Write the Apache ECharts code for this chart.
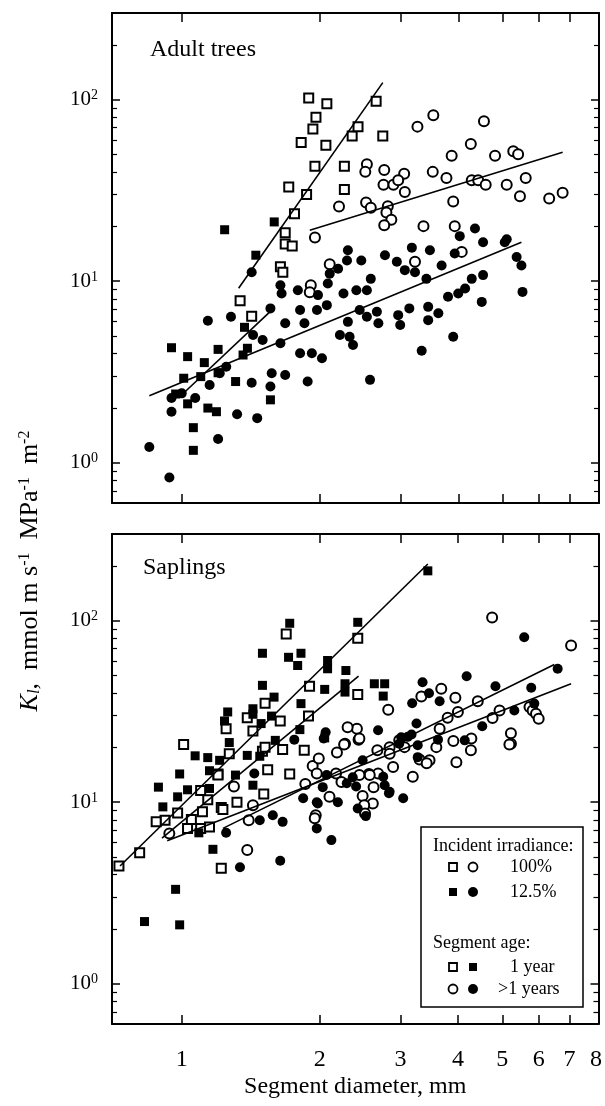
<!DOCTYPE html>
<html>
<head>
<meta charset="utf-8" />
<title>Kl vs segment diameter</title>
<script src="https://cdn.jsdelivr.net/npm/echarts@6/dist/echarts.min.js"></script>
</head>
<body style="margin:0;background:#fff;">
<div id="main" style="width:605px;height:1106px;"></div>
<script type="text/javascript">
// tick values
var xTicks = [1, 2, 3, 4, 5, 6, 7, 8];
var xTickMarks = [1, 2, 3, 4, 5, 6, 7];
var yMajor = [1, 10, 100];
var yMinor = [0.7, 0.8, 0.9, 2, 3, 4, 5, 6, 7, 8, 9, 20, 30, 40, 50, 60, 70, 80, 90, 200];

// Adult trees: [diameter mm, Kl]
var adultOpenSq = [[1.89,102],[2.07,95],[2.65,98],[1.96,80],[1.93,69],[2.35,63],[1.82,58],[2.06,56],[2.74,63],[2.42,71],
  [1.95,43],[2.26,43],[1.71,33],[2.26,32],[1.87,30],[1.76,23.5],[1.68,18.5],[1.68,16],[1.74,15.6],[1.64,12],[1.66,11.2],[1.34,7.8],[1.42,6.4]];
var adultFillSq = [[1.24,19.2],[1.59,21.2],[1.45,13.9],[0.95,4.3],[1.03,3.84],[1.12,3.56],[1.2,4.21],[1.39,4.27],[1.36,3.92],[1.37,5.57],
  [1.01,2.92],[1.1,2.98],[1.31,2.8],[1.03,2.11],[1.14,2.0],[1.19,1.91],[1.56,2.22],[1.06,1.56],[1.06,1.17],[0.97,2.39],[1.2,3.13]];
var adultOpenCi = [[3.53,82],[3.26,71],[4.55,76],[4.26,57],[3.87,49],[4.81,49],[5.27,52],[5.4,50],[2.53,44],[2.51,40],[2.76,41],[3.05,39],
  [3.52,40],[3.77,37],[2.75,34],[2.89,34],[2.96,36],[3.06,31],[4.28,36],[4.42,36],[4.59,34],[5.1,34],[5.61,37],[5.45,29.4],[6.31,28.5],
  [6.75,30.7],[2.2,25.8],[2.52,27.1],[2.58,25.4],[2.81,25.9],[2.79,23.9],[2.86,21.8],[2.76,20.3],[3.9,27.5],[3.36,20.1],[3.93,20.1],
  [1.95,17.4],[4.07,14.5],[2.1,12.4],[1.91,9.5],[1.9,8.7],[3.22,12.8]];
var adultFillCi = [[0.85,1.22],[0.94,0.83],[0.95,1.91],[0.95,2.27],[1.0,2.41],[1.07,2.27],[1.14,6.05],[1.15,2.68],[1.2,1.35],[1.21,3.11],
  [1.28,6.37],[1.25,3.38],[1.32,1.85],[1.42,2.76],[1.46,1.76],[1.42,11.2],[1.43,5.05],[1.5,4.74],[1.57,3.11],[1.56,2.63],[1.56,7.08],
  [1.64,9.5],[1.65,8.56],[1.64,4.55],[1.68,3.04],[1.68,5.86],[1.79,8.92],[1.81,6.93],[1.81,4.01],[1.85,5.86],[1.88,2.8],[1.92,4.01],
  [1.97,6.93],[1.98,8.38],[2.02,3.76],[2.07,7.38],[2.08,9.71],[2.1,11.0],[2.19,11.7],[2.21,5.05],[2.25,8.56],[2.29,13.0],[2.3,14.8],
  [2.3,5.97],[2.32,4.94],[2.36,4.45],[2.4,8.92],[2.44,6.93],[2.46,13.0],[2.53,8.92],[2.53,6.37],[2.57,2.86],[2.58,10.3],[2.68,5.86],
  [2.66,6.78],[2.77,13.9],[2.94,12.8],[2.99,5.73],[2.96,6.5],[3.06,11.5],[3.13,7.08],[3.17,15.3],[3.22,11.2],[3.33,4.14],[3.41,10.3],
  [3.44,7.22],[3.44,6.1],[3.47,14.8],[3.62,6.65],[3.68,12.2],[3.8,8.2],[3.9,4.94],[3.93,14.2],[4.0,8.56],[4.14,9.12],[4.28,10.3],
  [4.5,7.69],[4.53,16.4],[4.53,10.8],[5.05,16.4],[5.36,13.6],[5.49,12.2],[5.52,8.73],[4.03,17.7],[4.35,19.5],[5.1,17.0]];

// Saplings
var sapOpenSq = [[2.42,80],[1.69,84.5],[1.9,43.5],[2.42,39.2],[1.52,35.1],[1.64,28],[1.89,29.8],[1.39,29.2],[1.43,24.7],[1.25,25.4],
  [1.85,19.3],[1.66,19.5],[1.5,19.1],[1.01,20.8],[1.27,18.5],[1.52,20.1],[1.54,15.1],[1.2,14.3],[1.1,11.6],[1.51,11.1],[1.05,8.03],
  [1.32,10.0],[1.22,9.35],[1.14,10.3],[0.92,7.96],[0.88,7.79],[0.98,8.73],[1.03,7.17],[1.1,7.17],[1.15,7.31],[1.11,8.85],[1.2,14.1],
  [1.23,9.12],[1.22,4.32],[1.72,14.3],[0.73,4.45],[0.81,5.26]];
var sapFillSq = [[3.44,188],[1.72,96.7],[2.42,97.9],[1.5,66.1],[1.71,62.8],[1.82,66.1],[1.79,56.6],[2.08,60.3],[2.08,54.3],[2.28,53.1],
  [1.5,44],[2.05,41.8],[2.27,44.9],[2.27,40.4],[2.63,44.9],[2.77,44.9],[2.75,38.4],[1.59,37.9],[1.26,31.4],[1.43,32.7],[1.24,28],
  [1.43,30.5],[1.57,29.8],[1.82,34.9],[1.49,27.1],[1.27,21.3],[1.6,21.9],[1.81,25.1],[1.07,18],[1.14,17.6],[1.39,18.1],[1.48,17.9],
  [2.05,22.6],[1.21,17],[1.15,14.9],[0.99,14.3],[0.89,12.1],[0.98,10.7],[1.03,11.7],[0.91,9.42],[1.09,6.78],[1.17,5.5],[0.97,3.31],
  [0.83,2.2],[0.99,2.11],[1.31,14.1],[1.43,12.4],[1.15,11.9]];
var sapOpenCi = [[4.75,104],[7.06,73],[2.82,32.3],[3.33,38.2],[3.68,42.2],[3.95,37.6],[4.42,36],[4.0,31.4],[3.8,29.2],[3.65,25.4],
  [4.93,32],[4.76,29.1],[5.73,33.4],[5.82,32],[5.92,30.7],[6.0,28.8],[5.22,24],[5.22,21],[3.91,21.7],[4.28,22.4],[4.27,19.3],[3.97,16.6],
  [3.59,20.1],[3.47,17],[3.3,17.2],[2.98,21.9],[2.84,20.1],[2.84,18.5],[2.67,19.3],[2.41,25.4],[2.3,25.9],[2.43,22.1],[2.27,21],
  [2.18,18.8],[1.93,15.8],[1.99,17.4],[1.97,14.4],[1.86,12.6],[2.17,14.4],[2.56,14.3],[2.68,14.4],[2.48,10.8],[2.61,9.84],[2.5,9.63],
  [2.1,10.7],[1.96,8.48],[1.43,9.63],[1.3,12.2],[1.4,7.96],[1.39,5.45],[0.94,6.73],[2.89,15.6],[3.19,13.8],[3.42,16.4],[3.06,20.1],
  [2.57,14.1],[2.44,14.1],[2.23,12.9],[2.62,12.1],[2.51,8.67],[1.95,8.15],[2.26,20.8],[2.44,22.4],[5.18,20.8]];
var sapFillCi = [[5.58,81],[6.6,54.3],[5.78,42.7],[4.18,49.4],[4.83,43.5],[3.35,45.8],[3.46,39.8],[3.65,36],[3.18,35.1],[5.31,32],
  [5.87,34.9],[4.52,26.2],[3.25,27.1],[3.17,23.6],[3.62,22.1],[4.14,21.9],[3.27,20.6],[3.27,17.7],[2.68,24.9],[3.01,22.8],[2.98,21],
  [2.06,24.3],[2.04,22.4],[1.76,22.1],[2.48,17],[1.44,14.4],[1.84,10.5],[1.97,10],[1.97,7.17],[2.12,6.18],[1.48,7.96],[1.58,8.48],
  [1.66,7.79],[1.25,6.78],[1.34,4.38],[1.64,4.76],[2.42,9.23],[2.52,8.38],[2.77,12.4],[2.84,11.4],[3.04,10.5],[2.4,12.2],[2.29,12.7],
  [2.03,12.1],[2.07,14.1],[2.75,13.8],[2.36,13.7],[2.19,10],[2.83,11.2],[3.11,22.9],[1.98,9.84]];

// fitted lines (end points)
var adultFitOpenSq = [[1.33,9.15],[2.74,124]];
var adultFitFillSq = [[1.01,2.42],[1.57,6.93]];
var adultFitOpenCi = [[1.9,19.1],[6.75,51.3]];
var adultFitFillCi = [[0.85,2.34],[5.49,16.4]];
var sapFitA = [[0.734,4.45],[3.44,205]];
var sapFitB = [[0.906,6.34],[2.43,49.4]];
var sapFitFillCi = [[1.23,7.17],[6.49,57.3]];
var sapFitOpenCi = [[0.93,6.13],[7.06,44.9]];

var serif = '"Liberation Serif", "Times New Roman", serif';
var myChart = echarts.init(document.getElementById('main'));

function xAxes(g) {
    var common = {
        gridIndex: g, type: 'log', logBase: 10, min: 0.705, max: 8.1,
        axisLine: {show: true, onZero: false, lineStyle: {color: '#000', width: 2}},
        axisTick: {show: true, inside: true, length: 9, customValues: xTickMarks, lineStyle: {color: '#000', width: 1.5}},
        splitLine: {show: false}
    };
    var bottom = echarts.util.merge({
        position: 'bottom',
        axisLabel: {show: g === 1, customValues: xTicks, margin: 24, fontSize: 24, fontFamily: serif, color: '#000'}
    }, common);
    if (g === 1) {
        bottom.name = 'Segment diameter, mm';
        bottom.nameLocation = 'middle';
        bottom.nameGap = 51;
        bottom.nameTextStyle = {fontSize: 24, fontFamily: serif, color: '#000'};
    }
    var top = echarts.util.merge({position: 'top', axisLabel: {show: false}}, common);
    return [bottom, top];
}

function yAxes(g) {
    var list = [];
    ['left', 'right'].forEach(function (pos) {
        list.push({
            gridIndex: g, type: 'log', logBase: 10, min: 0.6, max: 300, position: pos,
            axisLine: {show: true, onZero: false, lineStyle: {color: '#000', width: 2}},
            axisTick: {show: true, inside: true, length: 8, customValues: yMajor, lineStyle: {color: '#000', width: 1.5}},
            axisLabel: {
                show: pos === 'left', customValues: yMajor, margin: 14,
                formatter: function (v) { return '{b|10}{s|' + Math.round(Math.log10(v)) + '}'; },
                rich: {
                    b: {fontSize: 21, fontFamily: serif, color: '#000'},
                    s: {fontSize: 14, fontFamily: serif, color: '#000', verticalAlign: 'top', padding: [0, 0, 8, 0]}
                }
            },
            splitLine: {show: false}
        });
        list.push({
            gridIndex: g, type: 'log', logBase: 10, min: 0.6, max: 300, position: pos,
            axisLine: {show: false},
            axisTick: {show: true, inside: true, length: 5, customValues: yMinor, lineStyle: {color: '#000', width: 1.2}},
            axisLabel: {show: false},
            splitLine: {show: false}
        });
    });
    return list;
}

function pts(data, g, symbol, filled, size) {
    return {
        type: 'scatter', xAxisIndex: g * 2, yAxisIndex: g * 4, data: data,
        symbol: symbol, symbolSize: size,
        itemStyle: {color: filled ? '#000' : '#fff', borderColor: '#000', borderWidth: filled ? 0 : 2, opacity: 1},
        z: 3
    };
}
function fit(data, g) {
    return {
        type: 'line', xAxisIndex: g * 2, yAxisIndex: g * 4, data: data,
        symbol: 'none', lineStyle: {color: '#000', width: 1.6}, z: 4
    };
}

var legendX = 421, legendY = 827;
var option = {
    backgroundColor: '#fff',
    animation: false,
    grid: [
        {left: 112, top: 13, width: 487, height: 490},
        {left: 112, top: 534, width: 487, height: 490}
    ],
    xAxis: xAxes(0).concat(xAxes(1)),
    yAxis: yAxes(0).concat(yAxes(1)),
    series: [
        pts(adultOpenCi, 0, 'circle', false, 10),
        pts(adultFillCi, 0, 'circle', true, 10),
        pts(adultOpenSq, 0, 'rect', false, 9),
        pts(adultFillSq, 0, 'rect', true, 9),
        fit(adultFitOpenSq, 0), fit(adultFitFillSq, 0), fit(adultFitOpenCi, 0), fit(adultFitFillCi, 0),
        pts(sapOpenCi, 1, 'circle', false, 10),
        pts(sapFillCi, 1, 'circle', true, 10),
        pts(sapOpenSq, 1, 'rect', false, 9),
        pts(sapFillSq, 1, 'rect', true, 9),
        fit(sapFitA, 1), fit(sapFitB, 1), fit(sapFitFillCi, 1), fit(sapFitOpenCi, 1)
    ],
    graphic: [
        {type: 'text', left: 150, top: 38, style: {text: 'Adult trees', font: '24px ' + serif, fill: '#000'}},
        {type: 'text', left: 143, top: 556, style: {text: 'Saplings', font: '24px ' + serif, fill: '#000'}},
        {
            type: 'text', x: 30, y: 571, rotation: Math.PI / 2,
            style: {
                text: '{i|K}{sb|l}{t|,  mmol m s}{sp|-1}{t|  MPa}{sp|-1}{t|  m}{sp|-2}',
                align: 'center', verticalAlign: 'middle',
                rich: {
                    i: {font: 'italic 26px ' + serif, fill: '#000'},
                    sb: {font: 'italic 17px ' + serif, fill: '#000', verticalAlign: 'bottom', padding: [8, 0, 0, 0]},
                    t: {font: '26px ' + serif, fill: '#000'},
                    sp: {font: '16px ' + serif, fill: '#000', verticalAlign: 'top', padding: [0, 0, 11, 0]}
                }
            }
        },
        // legend box
        {type: 'rect', shape: {x: legendX, y: legendY, width: 162, height: 180}, style: {fill: '#fff', stroke: '#000', lineWidth: 1.5}, z: 10},
        {type: 'text', x: 433, y: 846, z: 11, style: {text: 'Incident irradiance:', font: '18px ' + serif, fill: '#000', verticalAlign: 'middle'}},
        {type: 'rect', shape: {x: 449, y: 863, width: 8, height: 8}, style: {fill: '#fff', stroke: '#000', lineWidth: 1.8}, z: 11},
        {type: 'circle', shape: {cx: 473, cy: 867, r: 4.5}, style: {fill: '#fff', stroke: '#000', lineWidth: 1.8}, z: 11},
        {type: 'text', x: 510, y: 867, z: 11, style: {text: '100%', font: '18px ' + serif, fill: '#000', verticalAlign: 'middle'}},
        {type: 'rect', shape: {x: 449, y: 888, width: 8, height: 8}, style: {fill: '#000'}, z: 11},
        {type: 'circle', shape: {cx: 473, cy: 892, r: 5}, style: {fill: '#000'}, z: 11},
        {type: 'text', x: 510, y: 892, z: 11, style: {text: '12.5%', font: '18px ' + serif, fill: '#000', verticalAlign: 'middle'}},
        {type: 'text', x: 433, y: 943, z: 11, style: {text: 'Segment age:', font: '18px ' + serif, fill: '#000', verticalAlign: 'middle'}},
        {type: 'rect', shape: {x: 449, y: 963, width: 8, height: 8}, style: {fill: '#fff', stroke: '#000', lineWidth: 1.8}, z: 11},
        {type: 'rect', shape: {x: 469, y: 963, width: 8, height: 8}, style: {fill: '#000'}, z: 11},
        {type: 'text', x: 510, y: 967, z: 11, style: {text: '1 year', font: '18px ' + serif, fill: '#000', verticalAlign: 'middle'}},
        {type: 'circle', shape: {cx: 453, cy: 989, r: 4.5}, style: {fill: '#fff', stroke: '#000', lineWidth: 1.8}, z: 11},
        {type: 'circle', shape: {cx: 473, cy: 989, r: 5}, style: {fill: '#000'}, z: 11},
        {type: 'text', x: 498, y: 989, z: 11, style: {text: '>1 years', font: '18px ' + serif, fill: '#000', verticalAlign: 'middle'}}
    ]
};
myChart.setOption(option);
</script>
</body>
</html>
